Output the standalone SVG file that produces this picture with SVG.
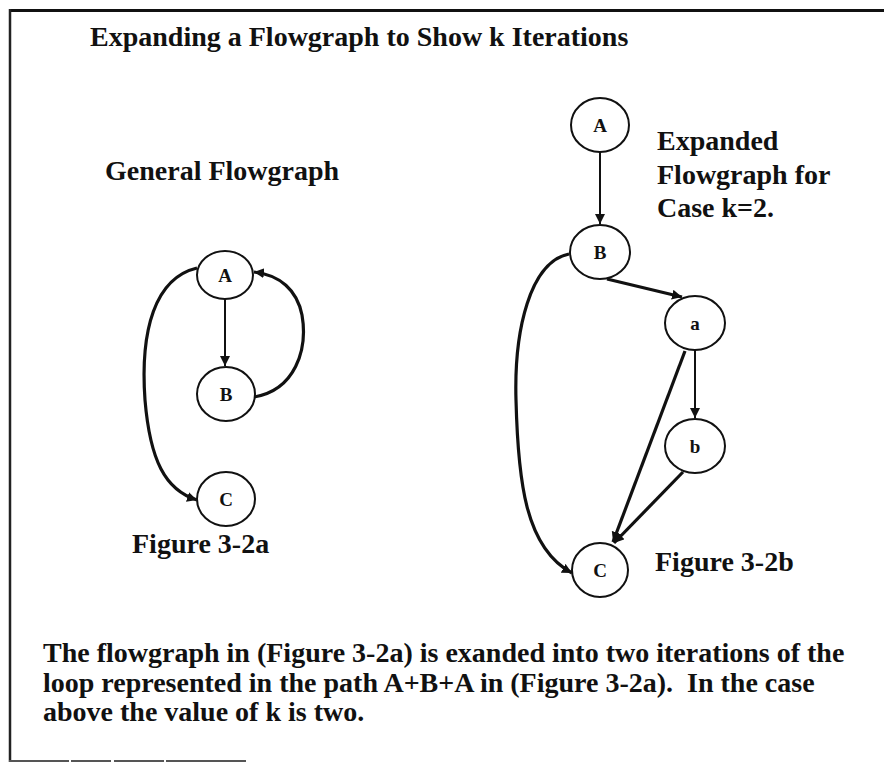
<svg xmlns="http://www.w3.org/2000/svg" width="884" height="763" viewBox="0 0 884 763">
<style>
  .txt { font-family: "Liberation Serif", "Times New Roman", serif; font-weight: bold; font-size: 28px; fill: #111; }
  .lbl { font-family: "Liberation Serif", "Times New Roman", serif; font-weight: bold; font-size: 19px; fill: #111; text-anchor: middle; }
  .node { fill: #fff; stroke: #111; stroke-width: 2; }
  .thin { fill: none; stroke: #111; stroke-width: 2; }
  .thick { fill: none; stroke: #111; stroke-width: 3.2; }
</style>
<defs>
  <marker id="arr" markerUnits="userSpaceOnUse" markerWidth="11" markerHeight="11" refX="10" refY="5" orient="auto">
    <path d="M0,0 L10,5 L0,10 z" fill="#111"/>
  </marker>
</defs>
<rect x="0" y="0" width="884" height="763" fill="#fff"/>
<g id="frame">
  <line x1="9" y1="10.5" x2="884" y2="10.5" stroke="#111" stroke-width="3"/>
  <line x1="10" y1="9" x2="10" y2="762" stroke="#222" stroke-width="2.5"/>
  <line x1="9" y1="761" x2="250" y2="761" stroke="#555" stroke-width="2" stroke-dasharray="60 2 40 3 50 2 80 4"/>
</g>
<text class="txt" x="90" y="46">Expanding a Flowgraph to Show k Iterations</text>
<text class="txt" x="105" y="180">General Flowgraph</text>
<text class="txt" x="657" y="150">Expanded</text>
<text class="txt" x="657" y="184">Flowgraph for</text>
<text class="txt" x="657" y="217">Case k=2.</text>
<text class="txt" x="132" y="553">Figure 3-2a</text>
<text class="txt" x="655" y="571">Figure 3-2b</text>
<text class="txt" x="43" y="662">The flowgraph in (Figure 3-2a) is exanded into two iterations of the</text>
<text class="txt" x="43" y="692">loop represented in the path A+B+A in (Figure 3-2a).&#160; In the case</text>
<text class="txt" x="43" y="721">above the value of k is two.</text>
<g id="connectors">
  <path class="thin" d="M225,299 L225,366" marker-end="url(#arr)"/>
  <path class="thick" d="M197,268 C155,278 140,330 145,400 C150,460 165,490 197,500" marker-end="url(#arr)"/>
  <path class="thick" d="M254,397 C295,390 308,350 302,315 C297,290 280,275 254,272" marker-end="url(#arr)"/>
  <path class="thin" d="M600,152 L600,224" marker-end="url(#arr)"/>
  <path class="thick" d="M607,279 L682,297" marker-end="url(#arr)"/>
  <path class="thick" d="M569,254 C530,262 514,330 516,400 C518,480 525,548 572,573" marker-end="url(#arr)"/>
  <path class="thin" d="M695,350 L695,418" marker-end="url(#arr)"/>
  <path class="thick" d="M685,351 L613,542" marker-end="url(#arr)"/>
  <path class="thick" d="M683,472 L614,543" marker-end="url(#arr)"/>
</g>
<g id="left-A"><ellipse class="node" cx="225" cy="275" rx="28" ry="24"/><text class="lbl" x="225" y="282">A</text></g>
<g id="left-B"><ellipse class="node" cx="226" cy="394" rx="29" ry="27"/><text class="lbl" x="226" y="401">B</text></g>
<g id="left-C"><ellipse class="node" cx="226" cy="499" rx="29" ry="27"/><text class="lbl" x="226" y="506">C</text></g>
<g id="right-A"><ellipse class="node" cx="600" cy="125" rx="29" ry="27"/><text class="lbl" x="600" y="132">A</text></g>
<g id="right-B"><ellipse class="node" cx="600" cy="252" rx="30" ry="27"/><text class="lbl" x="600" y="259">B</text></g>
<g id="right-a"><ellipse class="node" cx="695" cy="323" rx="30" ry="27"/><text class="lbl" x="695" y="330">a</text></g>
<g id="right-b"><ellipse class="node" cx="695" cy="446" rx="30" ry="27"/><text class="lbl" x="695" y="453">b</text></g>
<g id="right-C"><ellipse class="node" cx="600" cy="570" rx="28" ry="27"/><text class="lbl" x="600" y="577">C</text></g>
</svg>
